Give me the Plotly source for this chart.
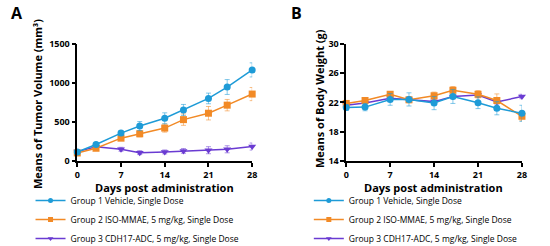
import plotly.graph_objects as go

days = [0, 3, 7, 10, 14, 17, 21, 24, 28]
group_names = [
    "Group 1 Vehicle, Single Dose",
    "Group 2 ISO-MMAE, 5 mg/kg, Single Dose",
    "Group 3 CDH17-ADC, 5 mg/kg, Single Dose",
]
x_ticks = [0, 7, 14, 21, 28]
tv_ticks = [0, 500, 1000, 1500]
bw_ticks = [14, 18, 22, 26, 30]

# Panel A: tumor volume (mm3)
tv_g1 = [116, 211, 357, 447, 546, 653, 800, 946, 1165]
tv_g1_err = [15, 20, 32, 58, 70, 70, 68, 95, 90]
tv_g2 = [103, 163, 292, 348, 421, 529, 611, 714, 856]
tv_g2_err = [12, 15, 20, 39, 52, 73, 86, 73, 84]
tv_g3 = [120, 181, 150, 107, 116, 129, 138, 150, 185]
tv_g3_err = [15, 20, 25, 25, 25, 30, 45, 45, 45]

# Panel B: body weight (g)
bw_g1 = [21.3, 21.35, 22.4, 22.4, 21.9, 22.8, 21.95, 21.2, 20.5]
bw_g1_err = [0.4, 0.5, 0.8, 0.9, 0.9, 0.95, 0.8, 0.9, 1.1]
bw_g2 = [21.85, 22.25, 23.1, 22.35, 22.9, 23.65, 23.1, 22.25, 20.1]
bw_g2_err = [0.3, 0.3, 0.3, 0.4, 0.5, 0.5, 0.5, 0.9, 0.6]
bw_g3 = [21.6, 21.9, 22.55, 22.4, 22.1, 22.8, 23.0, 22.05, 22.8]
bw_g3_err = [0.2, 0.2, 0.2, 0.2, 0.3, 0.3, 0.3, 0.3, 0.3]

colors = ["#1E9BD7", "#F28A26", "#6A3BD2"]
err_colors = ["rgba(30,155,215,0.55)", "rgba(242,138,38,0.55)", "rgba(106,59,210,0.55)"]
symbols = ["circle", "square", "triangle-down"]

FONT = "Open Sans"

fig = go.Figure()

panels = [
    ([tv_g1, tv_g2, tv_g3], [tv_g1_err, tv_g2_err, tv_g3_err], "x", "y", "legend"),
    ([bw_g1, bw_g2, bw_g3], [bw_g1_err, bw_g2_err, bw_g3_err], "x2", "y2", "legend2"),
]

for vals, errs, xa, ya, leg in panels:
    for i in [2, 1, 0]:
        fig.add_trace(go.Scatter(
            x=days, y=vals[i], name=group_names[i],
            mode="lines+markers",
            line=dict(color=colors[i], width=1.5),
            marker=dict(symbol=symbols[i], size=7, color=colors[i]),
            error_y=dict(type="data", array=errs[i], color=err_colors[i], thickness=1, width=2.5),
            xaxis=xa, yaxis=ya, showlegend=False,
            cliponaxis=False,
        ))
    # legend entries (no data points) with smaller symbols, as in the reference legend
    for i in [0, 1, 2]:
        fig.add_trace(go.Scatter(
            x=[None], y=[None], name=group_names[i],
            mode="lines+markers",
            line=dict(color=colors[i], width=1.5),
            marker=dict(symbol=symbols[i], size=5, color=colors[i]),
            xaxis=xa, yaxis=ya, legend=leg, legendrank=i + 1, showlegend=True,
        ))

axis_common = dict(
    showline=True, linecolor="black", linewidth=1.5,
    ticks="outside", ticklen=4, tickwidth=1.5, tickcolor="black",
    showgrid=False, zeroline=False, automargin=False,
    tickfont=dict(family=FONT, size=9, color="black", weight="bold"),
)

title_font = dict(family=FONT, size=11, color="black", weight="bold")
legend_font = dict(family=FONT, size=8.5, color="black")

fig.update_layout(
    width=550, height=246,
    margin=dict(l=0, r=0, t=0, b=0, autoexpand=False),
    paper_bgcolor="white", plot_bgcolor="white",
    showlegend=True,
    xaxis=dict(domain=[0.1405, 0.4585], range=[0, 28], tickvals=x_ticks, anchor="y", **axis_common),
    yaxis=dict(domain=[0.3455, 0.8224], range=[0, 1500], tickvals=tv_ticks, anchor="x", **axis_common),
    xaxis2=dict(domain=[0.6295, 0.949], range=[0, 28], tickvals=x_ticks, anchor="y2", **axis_common),
    yaxis2=dict(domain=[0.3455, 0.8224], range=[14, 30], tickvals=bw_ticks, anchor="x2", **axis_common),
    legend=dict(x=0.0555, y=1 - 186 / 246, xref="container", yref="container",
                xanchor="left", yanchor="top", bgcolor="rgba(0,0,0,0)",
                font=legend_font, itemwidth=30, tracegroupgap=0, traceorder="normal"),
    legend2=dict(x=0.5615, y=1 - 186 / 246, xref="container", yref="container",
                 xanchor="left", yanchor="top", bgcolor="rgba(0,0,0,0)",
                 font=legend_font, itemwidth=30, tracegroupgap=0, traceorder="normal"),
    annotations=[
        dict(text="A", x=17 / 550, y=1 - 13 / 246, xref="paper", yref="paper", showarrow=False,
             xanchor="center", yanchor="middle", font=dict(family=FONT, size=16, color="black", weight="bold")),
        dict(text="B", x=296 / 550, y=1 - 13 / 246, xref="paper", yref="paper", showarrow=False,
             xanchor="center", yanchor="middle", font=dict(family=FONT, size=16, color="black", weight="bold")),
        dict(text="Days post administration", x=0.2995, y=1 - 187.5 / 246, xref="paper", yref="paper",
             showarrow=False, xanchor="center", yanchor="middle", font=title_font),
        dict(text="Days post administration", x=0.789, y=1 - 187.5 / 246, xref="paper", yref="paper",
             showarrow=False, xanchor="center", yanchor="middle", font=title_font),
        dict(text="Means of Tumor Volume (mm³)", x=37 / 550, y=1 - 104 / 246, xref="paper", yref="paper",
             showarrow=False, xanchor="center", yanchor="middle", textangle=-90, font=title_font),
        dict(text="Means of Body Weight (g)", x=319 / 550, y=1 - 99 / 246, xref="paper", yref="paper",
             showarrow=False, xanchor="center", yanchor="middle", textangle=-90, font=title_font),
    ],
)

fig.write_html("out.html")
